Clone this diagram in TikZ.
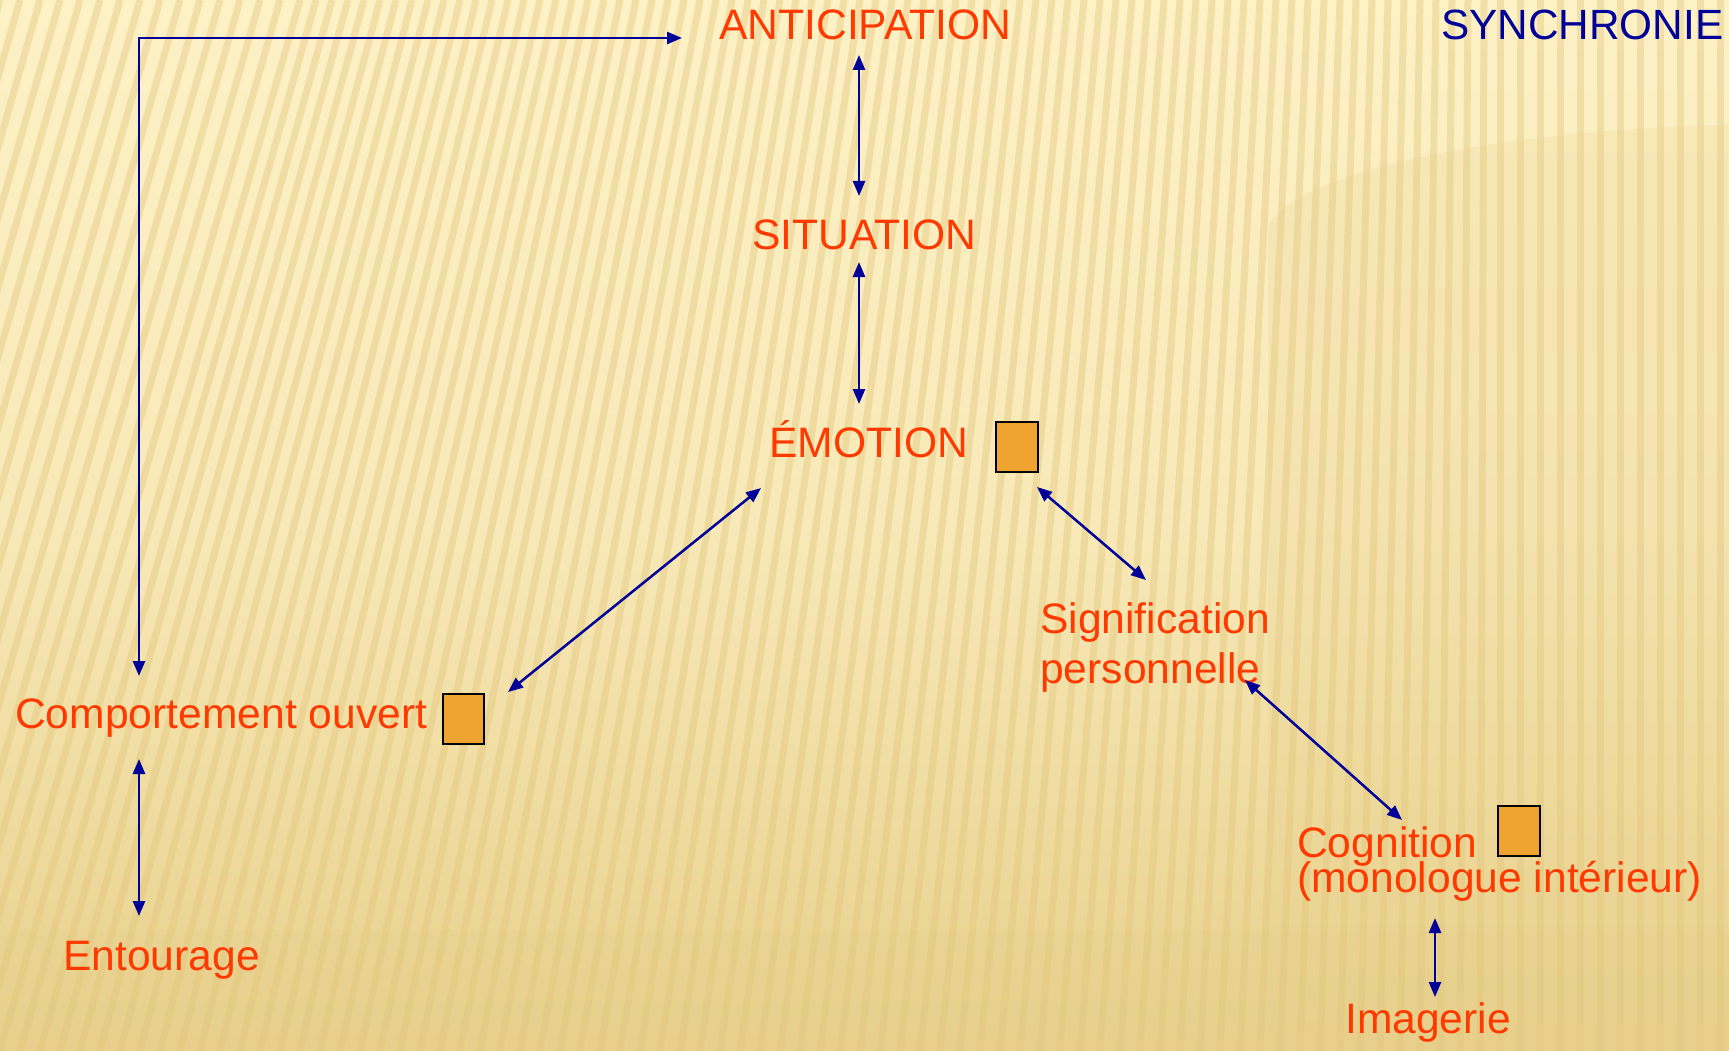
\documentclass[tikz,border=0pt]{standalone}
\usepackage{fontspec}
\setmainfont{Liberation Sans}
\usetikzlibrary{arrows.meta,calc}
\definecolor{txt}{HTML}{FF3A00}
\definecolor{arr}{HTML}{000099}
\definecolor{boxc}{HTML}{EFA330}
\definecolor{bgtop}{HTML}{FDF1C6}
\definecolor{bgbot}{HTML}{E8D08C}
\definecolor{stripe}{HTML}{E2C579}
\begin{document}
\begin{tikzpicture}[x=1pt,y=-1pt,
  lbl/.style={anchor=base west, inner sep=0pt, text=txt, font=\fontsize{42.6}{50}\selectfont},
  sync/.style={anchor=base west, inner sep=0pt, text=arr, font=\fontsize{42.3}{50}\selectfont},
  sq/.style={draw=black, line width=2pt, fill=boxc},
  link/.style={draw=arr, line width=2.5pt, {Triangle[length=15pt,width=12pt]}-{Triangle[length=15pt,width=12pt]}}]
\useasboundingbox (0,0) rectangle (1729,1051);
% background
\shade[top color=bgtop, bottom color=bgbot, middle color=bgtop!75!bgbot] (0,0) rectangle (1729,1051);
\fill[bgbot, opacity=0.22] (1729,125) .. controls (1500,130) and (1300,170) .. (1268,225) -- (1268,1051) -- (1729,1051) -- cycle;
\fill[bgbot, opacity=0.3] (0,930) rectangle (1729,1051);
\begin{scope}
\clip (0,0) rectangle (1729,1051);
\foreach \i in {-16,...,90} {
  \pgfmathsetmacro\xb{\i*20}
  \pgfmathsetmacro\dx{min(300,max(0,300*(1-\xb/1500)))}
  \draw[stripe, opacity=0.4, line width=7pt] (\xb+\dx,0) -- (\xb,1051);
}
\end{scope}
% texts
\node[lbl] (anti) at (719,40) {ANTICIPATION};
\node[sync] (sync) at (1441,40) {SYNCHRONIE};
\node[lbl] (sit) at (752,249) {SITUATION};
\node[lbl] (emo) at (769,457) {ÉMOTION};
\node[lbl] (sig1) at (1040,633) {Signification};
\node[lbl] (sig2) at (1040,683) {personnelle};
\node[lbl] (comp) at (15,728) {Comportement ouvert};
\node[lbl] (ent) at (63,970) {Entourage};
\node[lbl] (cog1) at (1297,857) {Cognition};
\node[lbl] (cog2) at (1297,892) {(monologue intérieur)};
\node[lbl] (img) at (1345,1033) {Imagerie};
% boxes
\draw[sq] (996,422) rectangle (1038,472) node[pos=0.5, inner sep=0] (emobox) {};
\draw[sq] (443,694) rectangle (484,744) node[pos=0.5, inner sep=0] (compbox) {};
\draw[sq] (1498,806) rectangle (1540,856) node[pos=0.5, inner sep=0] (cogbox) {};
% connector ends
\coordinate (antiS) at (859,55);
\coordinate (sitN) at (859,196);
\coordinate (sitS) at (859,262);
\coordinate (emoN) at (859,404);
\coordinate (emoSW) at (761,488);
\coordinate (compNE) at (508,692);
\coordinate (emoSE) at (1037,487);
\coordinate (sigN) at (1146,580);
\coordinate (sigSE) at (1245,680);
\coordinate (cogN) at (1402,820);
\coordinate (cogS) at (1435,918);
\coordinate (imgN) at (1435,997);
\coordinate (compS) at (139,759);
\coordinate (entN) at (139,916);
\coordinate (corner) at (139,38);
\coordinate (antiW) at (682,38);
\coordinate (compN) at (139,676);
% connectors
\draw[link] (antiS) -- (sitN);
\draw[link] (sitS) -- (emoN);
\draw[link] (emoSW) -- (compNE);
\draw[link] (emoSE) -- (sigN);
\draw[link] (sigSE) -- (cogN);
\draw[link] (cogS) -- (imgN);
\draw[link] (compS) -- (entN);
\draw[link, line join=miter] (compN) -- (corner) -- (antiW);
\end{tikzpicture}
\end{document}
